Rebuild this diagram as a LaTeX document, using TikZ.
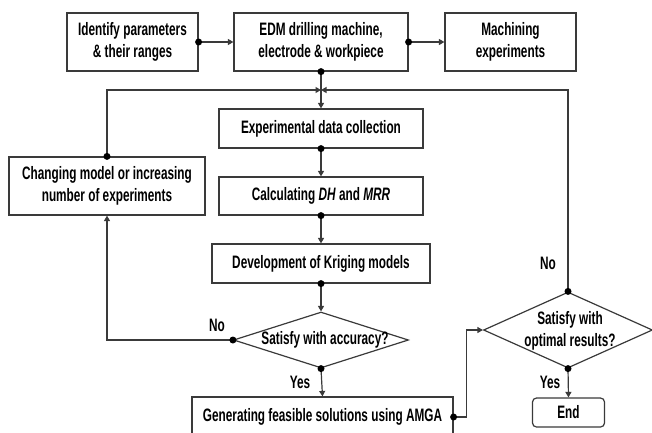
\documentclass[tikz,border=0pt]{standalone}
\usepackage{fontspec}
\setmainfont{Liberation Sans}[FakeStretch=0.655]
\usetikzlibrary{shapes.geometric,arrows.meta}
\definecolor{linec}{HTML}{3A3A3A}
\begin{document}
\begin{tikzpicture}[x=1pt,y=-1pt,
  every node/.style={font=\bfseries\fontsize{18}{22}\selectfont, text=black},
  bx/.style={draw=linec, line width=1.2pt, fill=white, inner sep=0pt, align=center},
  dm/.style={draw=linec, line width=1.2pt, fill=white, diamond, inner sep=0pt, aspect=2},
  arr/.style={draw=linec, line width=1.2pt, -{Triangle[length=5.5pt,width=6pt]}},
  dotc/.style={fill=black}
]
\useasboundingbox (0,0) rectangle (652,432);
% boxes
\node[bx, minimum width=131pt, minimum height=58pt] (b1) at (132.5,42) {Identify parameters\\\& their ranges};
\node[bx, minimum width=174pt, minimum height=58pt] (b2) at (321,42) {EDM drilling machine,\\electrode \& workpiece};
\node[bx, minimum width=131pt, minimum height=58pt] (b3) at (510.5,42) {Machining\\experiments};
\node[bx, minimum width=204pt, minimum height=39pt] (exp) at (321,128.5) {Experimental data collection};
\node[bx, minimum width=204pt, minimum height=38pt] (calc) at (321,196) {Calculating \textit{DH} and \textit{MRR}};
\node[bx, minimum width=218pt, minimum height=39pt] (dev) at (321,263.5) {Development of Kriging models};
\node[bx, minimum width=196pt, minimum height=58pt] (chg) at (107,186) {Changing model or increasing\\number of experiments};
\node[dm, minimum width=175pt, minimum height=56pt] (d1) at (321,340) {};
\node (d1t) at (325,340) {Satisfy with accuracy?};
\node[bx, minimum width=261pt, minimum height=40pt] (gen) at (322.5,417) {Generating feasible solutions using AMGA};
\node[dm, minimum width=169pt, minimum height=76pt] (d2) at (568,330) {};
\node[align=center] (d2t) at (570,331) {Satisfy with\\optimal results?};
\node[bx, rounded corners=4pt, minimum width=72pt, minimum height=29pt] (end) at (568.5,412.5) {End};
\coordinate (j) at (321,90);
% connectors
\draw[arr] (b1.east) -- (b2.west);
\draw[arr] (b2.east) -- (b3.west);
\draw[arr] (b2.south) -- (exp.north);
\draw[arr] (chg.north) |- (j);
\draw[arr] (d2.north) |- (j);
\draw[arr] (exp.south) -- (calc.north);
\draw[arr] (calc.south) -- (dev.north);
\draw[arr] (dev.south) -- (d1.north);
\draw[arr] (d1.west) -| (chg.south);
\draw[arr] (d1.south) -- (gen.north);
\draw[arr] (gen.east) -- ++(13,0) |- (d2.west);
\draw[arr] (d2.south) -- (end.north);
% dots
\foreach \p in {b1.east,b2.east,b2.south,chg.north,d2.north,exp.south,calc.south,dev.south,d1.west,d1.south,gen.east,d2.south}
  \fill[dotc] (\p) circle (3.5pt);
% labels
\node (no1) at (217,325) {No};
\node (yes1) at (300,382) {Yes};
\node (no2) at (548,263) {No};
\node (yes2) at (550,382) {Yes};
\end{tikzpicture}
\end{document}
